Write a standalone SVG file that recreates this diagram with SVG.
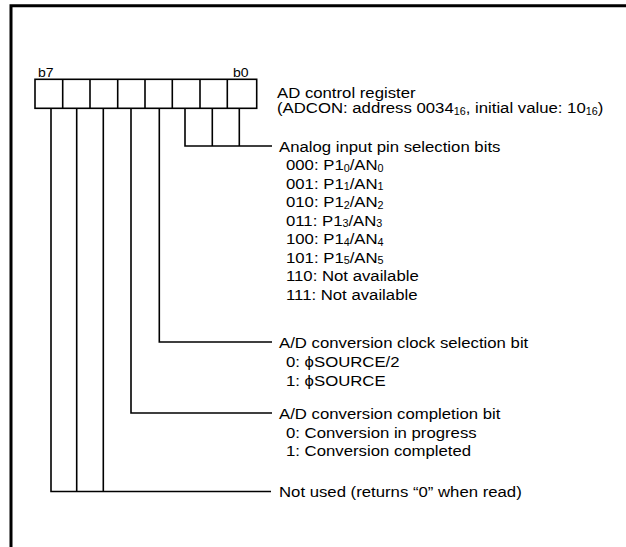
<svg xmlns="http://www.w3.org/2000/svg" width="626" height="547" viewBox="0 0 626 547">
<style>
text{font-family:"Liberation Sans",Arial,sans-serif;font-size:15.5px;fill:#000}
.lbl{font-size:13px}
.sub{font-size:10px}
.ln{fill:none;stroke:#000;stroke-width:1.6}
.cell{fill:#fff;stroke:#000;stroke-width:1.6}
</style>
<rect width="626" height="547" fill="#fff"/>
<g id="frame"><path d="M11,547 V5.7 H626" fill="none" stroke="#000" stroke-width="3"/></g>
<g id="register">
<text class="lbl" transform="translate(38,76.5) scale(1.08,1)">b7</text>
<text class="lbl" transform="translate(233,76.5) scale(1.08,1)">b0</text>
<rect class="cell" x="35" y="79.3" width="221.7" height="29"/>
<path class="ln" d="M62.7,79.3V108.3M90,79.3V108.3M117.7,79.3V108.3M145,79.3V108.3M172.3,79.3V108.3M200,79.3V108.3M227.3,79.3V108.3"/>
<text transform="translate(277,97.5) scale(1.08,1)">AD control register</text>
<text transform="translate(277,113) scale(1.08,1)">(ADCON: address 0034<tspan class="sub" dy="1.5">16</tspan><tspan dy="-1.5">, initial value: 10</tspan><tspan class="sub" dy="1.5">16</tspan><tspan dy="-1.5">)</tspan></text>
</g>
<g id="connectors">
<path class="ln" d="M185,108.3V146H272M212.3,108.3V146M239.3,108.3V146"/>
<path class="ln" d="M159.3,108.3V342H272"/>
<path class="ln" d="M131,108.3V413H272"/>
<path class="ln" d="M51,108.3V491.5H271M76.7,108.3V491.5M103.3,108.3V491.5"/>
</g>
<g id="analog">
<text transform="translate(279,151.5) scale(1.08,1)">Analog input pin selection bits</text>
<text transform="translate(286,170) scale(1.08,1)">000: P1<tspan class="sub" dy="1.5">0</tspan><tspan dy="-1.5">/AN</tspan><tspan class="sub" dy="1.5">0</tspan></text>
<text transform="translate(286,188.5) scale(1.08,1)">001: P1<tspan class="sub" dy="1.5">1</tspan><tspan dy="-1.5">/AN</tspan><tspan class="sub" dy="1.5">1</tspan></text>
<text transform="translate(286,207) scale(1.08,1)">010: P1<tspan class="sub" dy="1.5">2</tspan><tspan dy="-1.5">/AN</tspan><tspan class="sub" dy="1.5">2</tspan></text>
<text transform="translate(286,225.5) scale(1.08,1)">011: P1<tspan class="sub" dy="1.5">3</tspan><tspan dy="-1.5">/AN</tspan><tspan class="sub" dy="1.5">3</tspan></text>
<text transform="translate(286,244) scale(1.08,1)">100: P1<tspan class="sub" dy="1.5">4</tspan><tspan dy="-1.5">/AN</tspan><tspan class="sub" dy="1.5">4</tspan></text>
<text transform="translate(286,262.5) scale(1.08,1)">101: P1<tspan class="sub" dy="1.5">5</tspan><tspan dy="-1.5">/AN</tspan><tspan class="sub" dy="1.5">5</tspan></text>
<text transform="translate(286,281) scale(1.08,1)">110: Not available</text>
<text transform="translate(286,299.5) scale(1.08,1)">111: Not available</text>
</g>
<g id="clock">
<text transform="translate(279,347.5) scale(1.08,1)">A/D conversion clock selection bit</text>
<text transform="translate(286,367) scale(1.08,1)">0: ϕSOURCE/2</text>
<text transform="translate(286,385.5) scale(1.08,1)">1: ϕSOURCE</text>
</g>
<g id="completion">
<text transform="translate(279,418.5) scale(1.08,1)">A/D conversion completion bit</text>
<text transform="translate(286,437.5) scale(1.08,1)">0: Conversion in progress</text>
<text transform="translate(286,455.5) scale(1.08,1)">1: Conversion completed</text>
</g>
<g id="notused">
<text transform="translate(279,497) scale(1.08,1)">Not used (returns “0” when read)</text>
</g>
</svg>
